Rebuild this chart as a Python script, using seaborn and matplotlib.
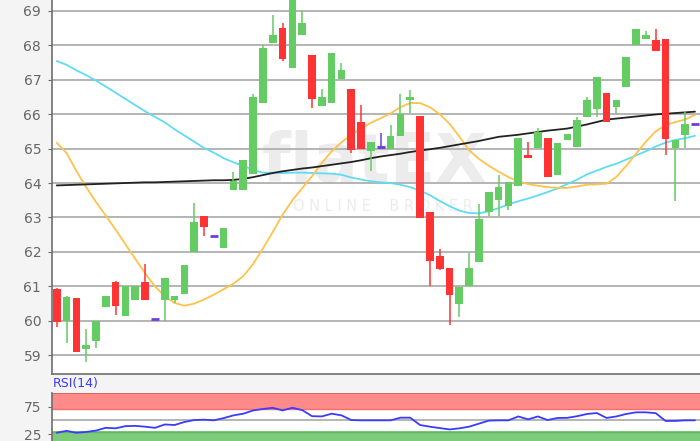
import matplotlib
matplotlib.use('Agg')
import matplotlib.pyplot as plt
import seaborn as sns
import numpy as np
import pandas as pd

# candle data
opens = [60.93, 60.01, 60.66, 59.19, 59.41, 60.39, 61.12, 60.15, 60.61, 61.13,
         60.06, 60.61, 60.61, 60.79, 62.01, 63.03, 62.47, 62.11, 63.80, 63.80,
         64.27, 66.33, 68.05, 68.49, 67.33, 68.29, 67.70, 66.22, 66.33, 67.01,
         66.72, 65.78, 64.94, 65.04, 64.98, 65.35, 66.41, 65.94, 63.17, 61.87,
         61.53, 60.50, 61.00, 61.71, 63.17, 63.51, 63.34, 63.92, 64.82, 65.03,
         65.30, 64.22, 65.24, 65.04, 65.91, 66.14, 66.62, 66.20, 66.78, 67.99,
         68.18, 68.15, 68.18, 65.03, 65.38, 65.71]
highs = [60.95, 60.71, 60.66, 59.77, 60.00, 60.71, 61.17, 61.00, 61.00, 61.65,
         60.06, 61.24, 60.71, 61.61, 63.42, 63.03, 62.47, 62.69, 64.32, 64.66,
         66.59, 67.99, 68.88, 68.63, 69.60, 68.99, 67.70, 66.72, 67.78, 67.47,
         66.72, 66.27, 65.20, 65.45, 65.67, 66.58, 66.70, 65.94, 63.17, 62.09,
         61.53, 60.98, 61.97, 63.39, 63.75, 64.23, 64.02, 65.30, 65.19, 65.59,
         65.30, 65.15, 65.42, 65.91, 66.51, 67.07, 66.62, 66.41, 67.67, 68.46,
         68.41, 68.46, 68.18, 65.25, 66.10, 65.71]
lows = [59.82, 59.36, 59.09, 58.80, 59.21, 60.39, 60.18, 60.15, 60.61, 60.61,
        60.06, 60.01, 60.52, 60.79, 62.01, 62.45, 62.47, 62.11, 63.80, 63.80,
        64.27, 66.33, 68.05, 67.55, 67.33, 68.29, 66.17, 66.22, 66.33, 67.01,
        64.88, 64.98, 64.36, 65.04, 64.98, 65.35, 66.03, 62.98, 61.00, 61.48,
        59.89, 60.11, 61.00, 61.71, 63.03, 63.03, 63.22, 63.92, 64.72, 65.03,
        64.17, 64.22, 65.24, 65.04, 65.91, 65.91, 65.78, 66.00, 66.78, 67.99,
        68.18, 67.83, 64.82, 63.47, 65.03, 65.71]
closes = [59.97, 60.68, 59.09, 59.31, 59.99, 60.71, 60.42, 61.00, 61.00, 60.61,
          60.06, 61.24, 60.71, 61.61, 62.88, 62.71, 62.47, 62.69, 64.06, 64.66,
          66.49, 67.93, 68.30, 67.60, 69.60, 68.63, 66.43, 66.49, 67.78, 67.28,
          64.96, 64.98, 65.20, 65.04, 65.37, 66.00, 66.51, 62.98, 61.74, 61.51,
          60.76, 60.98, 61.53, 62.96, 63.75, 63.87, 64.02, 65.30, 64.72, 65.47,
          64.17, 65.15, 65.42, 65.83, 66.40, 67.07, 65.78, 66.41, 67.67, 68.46,
          68.30, 67.83, 65.27, 65.25, 65.71, 65.71]

# moving averages
ma_cyan = [67.54, 67.43, 67.27, 67.13, 66.97, 66.80, 66.62, 66.44, 66.26, 66.08,
           65.92, 65.76, 65.56, 65.38, 65.20, 65.02, 64.88, 64.72, 64.60, 64.50,
           64.38, 64.30, 64.30, 64.29, 64.30, 64.30, 64.29, 64.28, 64.27, 64.24,
           64.16, 64.10, 64.05, 64.02, 64.00, 63.95, 63.88, 63.78, 63.65, 63.48,
           63.33, 63.20, 63.13, 63.12, 63.18, 63.27, 63.38, 63.47, 63.55, 63.64,
           63.74, 63.84, 63.97, 64.10, 64.25, 64.36, 64.47, 64.56, 64.68, 64.80,
           64.92, 65.06, 65.17, 65.25, 65.30, 65.37]
ma_orange = [65.17, 64.87, 64.35, 63.88, 63.45, 63.05, 62.65, 62.22, 61.80, 61.38,
             61.00, 60.72, 60.52, 60.44, 60.50, 60.62, 60.76, 60.92, 61.08, 61.30,
             61.65, 62.10, 62.58, 63.08, 63.50, 63.85, 64.20, 64.58, 64.92, 65.18,
             65.40, 65.58, 65.75, 65.88, 66.02, 66.20, 66.32, 66.32, 66.20, 66.00,
             65.72, 65.35, 64.95, 64.70, 64.50, 64.33, 64.17, 64.05, 63.97, 63.92,
             63.88, 63.86, 63.86, 63.90, 63.95, 63.96, 63.98, 64.18, 64.50, 64.85,
             65.20, 65.50, 65.68, 65.77, 65.84, 65.98]
ma_black = [63.93, 63.94, 63.95, 63.96, 63.97, 63.98, 63.99, 64.00, 64.01, 64.02,
            64.02, 64.03, 64.04, 64.05, 64.06, 64.07, 64.08, 64.08, 64.09, 64.12,
            64.17, 64.23, 64.29, 64.34, 64.38, 64.42, 64.45, 64.49, 64.53, 64.57,
            64.61, 64.66, 64.72, 64.77, 64.81, 64.85, 64.90, 64.94, 64.98, 65.02,
            65.07, 65.12, 65.17, 65.22, 65.28, 65.34, 65.37, 65.40, 65.44, 65.48,
            65.52, 65.55, 65.58, 65.64, 65.70, 65.77, 65.84, 65.87, 65.90, 65.93,
            65.96, 65.99, 66.01, 66.03, 66.05, 66.07]

rsi = [27.5, 31.0, 27.5, 29.0, 31.5, 36.5, 35.5, 39.5, 40.0, 38.5,
       36.4, 42.5, 41.5, 47.0, 50.5, 51.2, 50.0, 54.0, 59.0, 62.0,
       67.9, 70.5, 72.7, 68.0, 72.7, 68.5, 57.5, 57.1, 62.0, 59.0,
       50.5, 50.0, 50.0, 50.0, 50.0, 54.8, 54.8, 41.5, 38.5, 36.0,
       33.5, 35.5, 38.5, 44.0, 49.5, 50.0, 50.0, 57.0, 51.8, 57.0,
       50.5, 54.3, 54.5, 57.5, 61.5, 63.2, 54.3, 57.1, 61.5, 64.5,
       64.5, 63.0, 48.9, 48.9, 50.0, 50.0]

price_ticks = [59, 60, 61, 62, 63, 64, 65, 66, 67, 68, 69]
rsi_ticks = [25, 75]

sns.set_style('white')
plt.rcParams['font.family'] = ['DejaVu Sans']

df = pd.DataFrame({'i': np.arange(len(opens)), 'o': opens, 'h': highs, 'l': lows,
                   'c': closes, 'cyan': ma_cyan, 'orange': ma_orange,
                   'black': ma_black, 'rsi': rsi})

GREEN, RED, DOJI = '#63cc63', '#ff3333', '#6a3ee0'
TXT = '#666666'

fig = plt.figure(figsize=(7, 4.41), dpi=100, facecolor='#f4f4f4')
x0 = 52.3 / 700
ax = fig.add_axes([x0, 1 - 374.3 / 441, 1 - x0, 374.3 / 441])
ax_rsi = fig.add_axes([x0, 0, 1 - x0, 1 - 392.7 / 441])

# --- main price panel ---
ax.set_facecolor('white')
ax.set_xlim(-0.45, 65.51)
ax.set_ylim(58.45, 69.31)
ax.set_yticks(price_ticks)
ax.set_xticks([])
ax.grid(axis='y', color='#b4b4b4', lw=1.4, zorder=0)
for s in ['top', 'right']:
    ax.spines[s].set_visible(False)
for s in ['left', 'bottom']:
    ax.spines[s].set_color('#6e6e6e')
    ax.spines[s].set_linewidth(1.2)
ax.tick_params(axis='y', left=True, length=3, color='#6e6e6e',
               labelcolor=TXT, labelsize=10, pad=5)

# watermark
ax.text(0.497, 0.565, 'flatEX', transform=ax.transAxes, ha='center', va='center',
        fontsize=48, fontweight='bold', color='#ececec', zorder=0.5)
ax.text(0.51, 0.448, 'O N L I N E    B R O K E R', transform=ax.transAxes,
        ha='center', va='center', fontsize=10.5, color='#ececec', zorder=0.5)

sns.lineplot(data=df, x='i', y='cyan', ax=ax, color='#5fdcf5', lw=1.3, zorder=2)
sns.lineplot(data=df, x='i', y='orange', ax=ax, color='#ffc24a', lw=1.3, zorder=2)
sns.lineplot(data=df, x='i', y='black', ax=ax, color='#222222', lw=1.3, zorder=2)

w = 0.78
for i, r in df.iterrows():
    if r.c > r.o:
        col = GREEN
    elif r.c < r.o:
        col = RED
    else:
        col = DOJI
    ax.vlines(r.i, r.l, r.h, color=col, lw=1.1, zorder=3)
    if col == DOJI:
        ax.hlines(r.c, r.i - w / 2, r.i + w / 2, color=col, lw=2, zorder=3)
    else:
        ax.bar(r.i, abs(r.c - r.o), bottom=min(r.o, r.c), width=w,
               color=col, zorder=3, linewidth=0)
ax.set_xlabel('')
ax.set_ylabel('')

# --- RSI panel ---
ax_rsi.set_facecolor('white')
ax_rsi.set_xlim(-0.45, 65.51)
ax_rsi.set_ylim(12.6, 100)
ax_rsi.axhspan(70, 100, color='#ff8a8a', zorder=0, lw=0)
ax_rsi.axhline(99, color='#e06565', lw=1.5, zorder=1)
ax_rsi.axhline(70.5, color='#f07070', lw=1, zorder=1)
ax_rsi.axhspan(0, 30, color='#7ccc7c', zorder=0, lw=0)
ax_rsi.axhline(29.5, color='#5fb85f', lw=1, zorder=1)
ax_rsi.axhline(50, color='#b4b4b4', lw=1.4, zorder=1)
sns.lineplot(data=df, x='i', y='rsi', ax=ax_rsi, color='#3b3bff', lw=1.3, zorder=2)
ax_rsi.set_yticks(rsi_ticks)
ax_rsi.set_xticks([])
ax_rsi.set_xlabel('')
ax_rsi.set_ylabel('')
for s in ['top', 'right', 'bottom']:
    ax_rsi.spines[s].set_visible(False)
ax_rsi.spines['left'].set_color('#6e6e6e')
ax_rsi.spines['left'].set_linewidth(1.2)
ax_rsi.tick_params(axis='y', left=True, length=3, color='#6e6e6e',
                   labelcolor=TXT, labelsize=10, pad=5)
fig.text(x0 + 0.001, 1 - 384 / 441, 'RSI(14)', color='#3b3bff', fontsize=9,
         ha='left', va='center')

fig.savefig('out.png', dpi=100, facecolor=fig.get_facecolor())
